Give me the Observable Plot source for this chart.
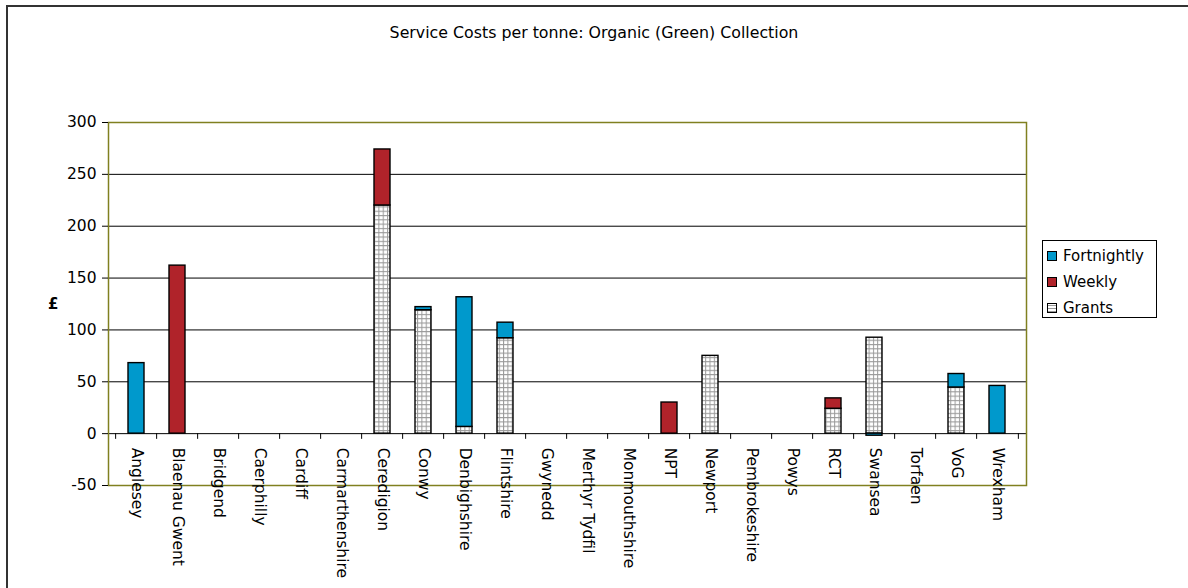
<!DOCTYPE html>
<html>
<head>
<meta charset="utf-8">
<script src="https://cdn.jsdelivr.net/npm/d3@7"></script>
<script src="https://cdn.jsdelivr.net/npm/@observablehq/plot@0.6"></script>
<style>
  html, body { margin: 0; padding: 0; background: #fff; }
  #wrap { position: relative; width: 1188px; height: 588px; overflow: hidden; font-family: "DejaVu Sans", sans-serif; color: #000; }
  #border { position: absolute; left: 6px; top: 5px; width: 1300px; height: 700px; border-left: 2px solid #333; border-top: 2px solid #333; }
  #title { position: absolute; left: 0; width: 1188px; top: 23px; text-align: center; font-size: 15.8px; }
  #ylab { position: absolute; left: 48px; top: 295px; font-size: 15px; font-weight: bold; }
  #legend { position: absolute; left: 1042px; top: 240px; width: 115px; height: 78px; border: 1px solid #000; box-sizing: border-box; font-size: 15px; }
  .li { position: absolute; left: 4px; height: 18px; display: flex; align-items: center; }
  .sw { width: 8px; height: 8px; border: 1px solid #000; margin-right: 6px; }
  #chart { position: absolute; left: 0; top: 0; }
</style>
</head>
<body>
<div id="wrap">
  <div id="border"></div>
  <div id="chart"></div>
  <div id="title">Service Costs per tonne: Organic (Green) Collection</div>
  <div id="ylab">£</div>
  <div id="legend"></div>
</div>
<script>
const categories = ["Anglesey","Blaenau Gwent","Bridgend","Caerphilly","Cardiff","Carmarthenshire","Ceredigion","Conwy","Denbighshire","Flintshire","Gwynedd","Merthyr Tydfil","Monmouthshire","NPT","Newport","Pembrokeshire","Powys","RCT","Swansea","Torfaen","VoG","Wrexham"];
const grants      = [0,0,0,0,0,0,220,119,6.5,92,0,0,0,0,75,0,0,24,92.5,0,44.5,0];
const weekly      = [0,162,0,0,0,0,54,0,0,0,0,0,0,30,0,0,0,10,0,0,0,0];
const fortnightly = [68,0,0,0,0,0,0,3,125,15,0,0,0,0,0,0,0,0,-2,0,13,46];
const seriesNames = ["Fortnightly","Weekly","Grants"];
const seriesColors = ["#0099cc","#b0232a","url(#grantsPattern)"];
const yTicks = [-50,0,50,100,150,200,250,300];
const gridTicks = [0,50,100,150,200,250];

const W = 1188, H = 588, mL = 108, mR = 162, mT = 122, mB = 103;
const step = (W - mL - mR) / categories.length;

const rows = [];
categories.forEach((c, i) => {
  if (grants[i] !== 0) rows.push({cat: c, series: "Grants", value: grants[i]});
  if (weekly[i] !== 0) rows.push({cat: c, series: "Weekly", value: weekly[i]});
  if (fortnightly[i] !== 0) rows.push({cat: c, series: "Fortnightly", value: fortnightly[i]});
});

const chart = Plot.plot({
  width: W, height: H,
  marginLeft: mL, marginRight: mR, marginTop: mT, marginBottom: mB,
  style: {fontFamily: "DejaVu Sans, sans-serif", fontSize: "15px", color: "#000", background: "transparent", overflow: "visible"},
  x: {domain: categories, paddingInner: 0.6, paddingOuter: 0.3, axis: null},
  y: {domain: [-50, 300], axis: null},
  color: {domain: seriesNames, range: seriesColors},
  marks: [
    Plot.ruleY(gridTicks, {stroke: "#000", strokeWidth: 1}),
    Plot.frame({stroke: "#808020", strokeWidth: 1.5}),
    Plot.axisY({ticks: yTicks, tickFormat: d => String(d), tickSize: 6, tickPadding: 6, stroke: "#000", fill: "#000", fontSize: 15.5, label: null}),
    Plot.ruleX(categories, {x: d => d, y1: 0, y2: -5.5, dx: -step / 2, stroke: "#000"}),
    Plot.ruleX([categories[categories.length - 1]], {x: d => d, y1: 0, y2: -5.5, dx: step / 2, stroke: "#000"}),
    Plot.barY(rows, Plot.stackY({
      x: "cat", y: "value", fill: "series", order: ["Grants","Weekly","Fortnightly"],
      stroke: "#000", strokeWidth: 1.4
    })),
    Plot.text(categories, {x: d => d, y: 0, text: d => d, rotate: 90, textAnchor: "start", dy: 14, fontSize: 15.5, fill: "#000"})
  ]
});

// grid pattern for Grants
const ns = "http://www.w3.org/2000/svg";
const defs = document.createElementNS(ns, "defs");
defs.innerHTML = `<pattern id="grantsPattern" patternUnits="userSpaceOnUse" width="4.3" height="4.3">
  <rect width="4.3" height="4.3" fill="#fff"/>
  <path d="M0 0.5H4.3M0.5 0V4.3" stroke="#999" stroke-width="1"/>
</pattern>`;
chart.insertBefore(defs, chart.firstChild);
document.getElementById("chart").appendChild(chart);

// legend
const legend = document.getElementById("legend");
const tops = [6, 32, 58];
seriesNames.forEach((s, i) => {
  const item = document.createElement("div");
  item.className = "li";
  item.style.top = tops[i] + "px";
  const sw = document.createElement("div");
  sw.className = "sw";
  if (s === "Grants") {
    sw.style.background = "repeating-linear-gradient(0deg,#999 0 1px,#fff 1px 3px)";
  } else {
    sw.style.background = seriesColors[i];
  }
  const t = document.createElement("span");
  t.textContent = s;
  item.appendChild(sw);
  item.appendChild(t);
  legend.appendChild(item);
});
</script>
</body>
</html>
